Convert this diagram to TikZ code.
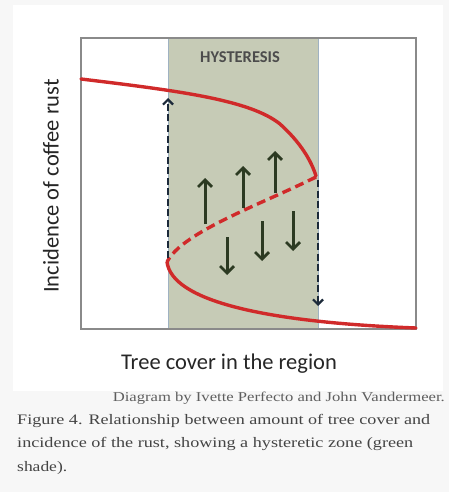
\documentclass[tikz,border=0pt]{standalone}
\usepackage{graphicx}
\usepackage{fontspec}
\setmainfont{Liberation Serif}
\newfontfamily\calib{Carlito}
\usetikzlibrary{arrows.meta}
\definecolor{pagebg}{HTML}{F7F7F7}
\definecolor{rustred}{HTML}{D02A2A}
\definecolor{hystgreen}{HTML}{C6CBB6}
\definecolor{hystedge}{HTML}{9FB2C2}
\definecolor{arrowgreen}{HTML}{2C3A22}
\definecolor{navy}{HTML}{1C2A3A}
\definecolor{boxgray}{HTML}{8A8A8A}
\definecolor{captxt}{HTML}{444444}
\definecolor{credtxt}{HTML}{5E5E5E}
\newcommand{\fitw}[2]{\resizebox{#1}{\height}{#2}}
\tikzset{
  redline/.style={rustred, line width=3.4pt, line cap=round},
  reddash/.style={rustred, line width=3.4pt, dash pattern=on 9pt off 5pt},
  jump/.style={navy, line width=2.8pt, dash pattern=on 7pt off 3.5pt, -{Straight Barb[length=5pt,width=10pt,line width=2.2pt]}},
  flow/.style={arrowgreen, line width=3pt, -{Straight Barb[length=7pt,width=14pt,line width=2.8pt]}},
  axlabel/.style={font=\calib\fontsize{22.5}{26}\selectfont, text=black!85},
  captext/.style={font=\fontsize{14.5}{17}\selectfont, text=captxt, anchor=base west, inner sep=0pt},
}
\begin{document}
\begin{tikzpicture}[x=1pt,y=-1pt]
\useasboundingbox (0,0) rectangle (449,492);
\fill[pagebg] (0,0) rectangle (449,492);
\fill[white] (13,5) rectangle (443,391);
% hysteresis zone
\fill[hystgreen] (168,38) rectangle (318,329);
\draw[hystedge, line width=1pt] (168,38) -- (168,329) (318,38) -- (318,329);
% plot box
\node[draw=boxgray, line width=1.4pt, minimum width=335pt, minimum height=291pt, inner sep=0pt] (box) at (248.5,183.5) {};
\node[font=\calib\bfseries\fontsize{16.5}{18}\selectfont, text=black!70] (hyst) at (240,57) {HYSTERESIS};
% curves
\draw[redline] (81,79) .. controls (180,91) and (250,100) .. (280,124) .. controls (300,142) and (311,160) .. (316,176);
\draw[reddash] (316,177) .. controls (262,204) and (182,232) .. (167,262);
\draw[redline] (167,262) .. controls (172,300) and (260,322) .. (416,328);
% jumps
\coordinate (jl0) at (168,258);
\coordinate (jl1) at (168,98);
\coordinate (jr0) at (318,180);
\coordinate (jr1) at (318,306);
\draw[jump] (jl0) -- (jl1);
\draw[jump] (jr0) -- (jr1);
% flow arrows
\coordinate (u1a) at (205,224); \coordinate (u1b) at (205,178);
\coordinate (u2a) at (243,208); \coordinate (u2b) at (243,166);
\coordinate (u3a) at (275,193); \coordinate (u3b) at (275,151);
\coordinate (d1a) at (227,237); \coordinate (d1b) at (227,275);
\coordinate (d2a) at (262,221); \coordinate (d2b) at (262,261);
\coordinate (d3a) at (293,211); \coordinate (d3b) at (293,251);
\draw[flow] (u1a) -- (u1b);
\draw[flow] (u2a) -- (u2b);
\draw[flow] (u3a) -- (u3b);
\draw[flow] (d1a) -- (d1b);
\draw[flow] (d2a) -- (d2b);
\draw[flow] (d3a) -- (d3b);
% labels
\node[axlabel, rotate=90] (ylabel) at (51,186) {Incidence of coffee rust};
\node[axlabel] (xlabel) at (229,364) {Tree cover in the region};
% caption
\node[font=\fontsize{13.5}{16}\selectfont, text=credtxt, anchor=base east, inner sep=0pt] (credit) at (445,401) {\fitw{332pt}{Diagram by Ivette Perfecto and John Vandermeer.}};
\node[captext] (cap1) at (17,424) {\fitw{413pt}{Figure 4. Relationship between amount of tree cover and}};
\node[captext] (cap2) at (17,447) {\fitw{396pt}{incidence of the rust, showing a hysteretic zone (green}};
\node[captext] (cap3) at (17,471) {\fitw{50pt}{shade).}};
\end{tikzpicture}
\end{document}
